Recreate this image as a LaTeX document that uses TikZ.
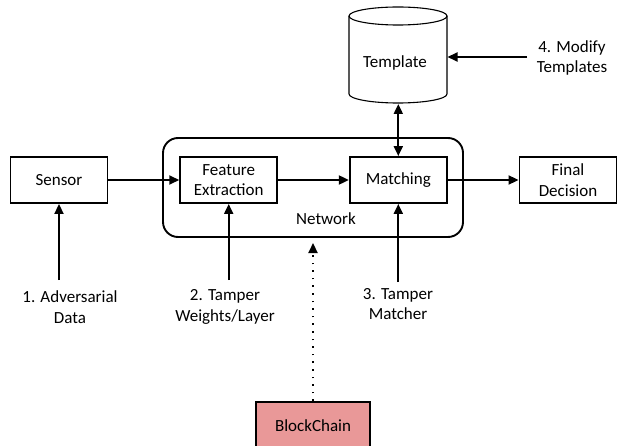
\documentclass[tikz,border=0pt]{standalone}
\usepackage{fontspec}
\setmainfont{Carlito}
\usetikzlibrary{arrows.meta}
\definecolor{chainpink}{RGB}{233,152,152}

\begin{document}
\begin{tikzpicture}[x=1pt,y=-1pt,
	font=\fontsize{17}{20.5}\selectfont,
	>={Triangle[length=10pt,width=9pt]},
	blk/.style={draw,line width=1.9pt,minimum width=97pt,minimum height=46pt,inner sep=0pt,align=center},
	txt/.style={align=center,inner sep=0pt},
	arr/.style={line width=1.9pt,->}]
	\useasboundingbox (0,0) rectangle (617,446);
	\clip (0,0) rectangle (617,446);
	\node[draw,line width=1.9pt,rounded corners=15pt,minimum width=300pt,minimum height=99pt] (network) at (313,187.5) {};
	\node[txt] (netlbl) at (326,219) {Network};
	\node[blk] (sensor) at (59,180) {Sensor};
	\node[blk] (feat) at (228.7,180) {Feature\\Extraction};
	\node[blk] (match) at (398.3,180) {Matching};
	\node[blk] (decision) at (568,180) {Final\\Decision};
	\node[blk,fill=chainpink,minimum width=114pt,minimum height=48pt] (blockchain) at (313,426) {BlockChain};
	\draw[line width=1.1pt] (349,16) -- (349,94) arc[start angle=180,end angle=0,x radius=49,y radius=9] -- (447,16);
	\draw[line width=1.1pt] (398,16) ellipse[x radius=49,y radius=9];
	\node[txt] (template) at (395,63) {Template};
	\coordinate (tbot) at (398.3,104);
	\coordinate (tright) at (447.5,57);
	\node[txt] (l1) at (70,307) {1. Adversarial\\Data};
	\node[txt] (l2) at (225,307) {2. Tamper\\Weights/Layer};
	\node[txt] (l3) at (398,304) {3. Tamper\\Matcher};
	\node[txt] (l4) at (572,58) {4. Modify\\Templates};
	\coordinate (a1) at (59,280);
	\coordinate (a2) at (228.7,280);
	\coordinate (a3) at (398.3,282);
	\coordinate (a4) at (527,57);
	\coordinate (bctip) at (313,243);
	\draw[arr] (sensor.east) -- (feat.west);
	\draw[arr] (feat.east) -- (match.west);
	\draw[arr] (match.east) -- (decision.west);
	\draw[arr,<->] (match.north) -- (tbot);
	\draw[arr] (a4) -- (tright);
	\draw[arr] (a1) -- (sensor.south);
	\draw[arr] (a2) -- (feat.south);
	\draw[arr] (a3) -- (match.south);
	\draw[arr,line width=2.2pt,dash pattern=on 1.6pt off 6pt] (blockchain.north) -- (bctip);
\end{tikzpicture}
\end{document}
